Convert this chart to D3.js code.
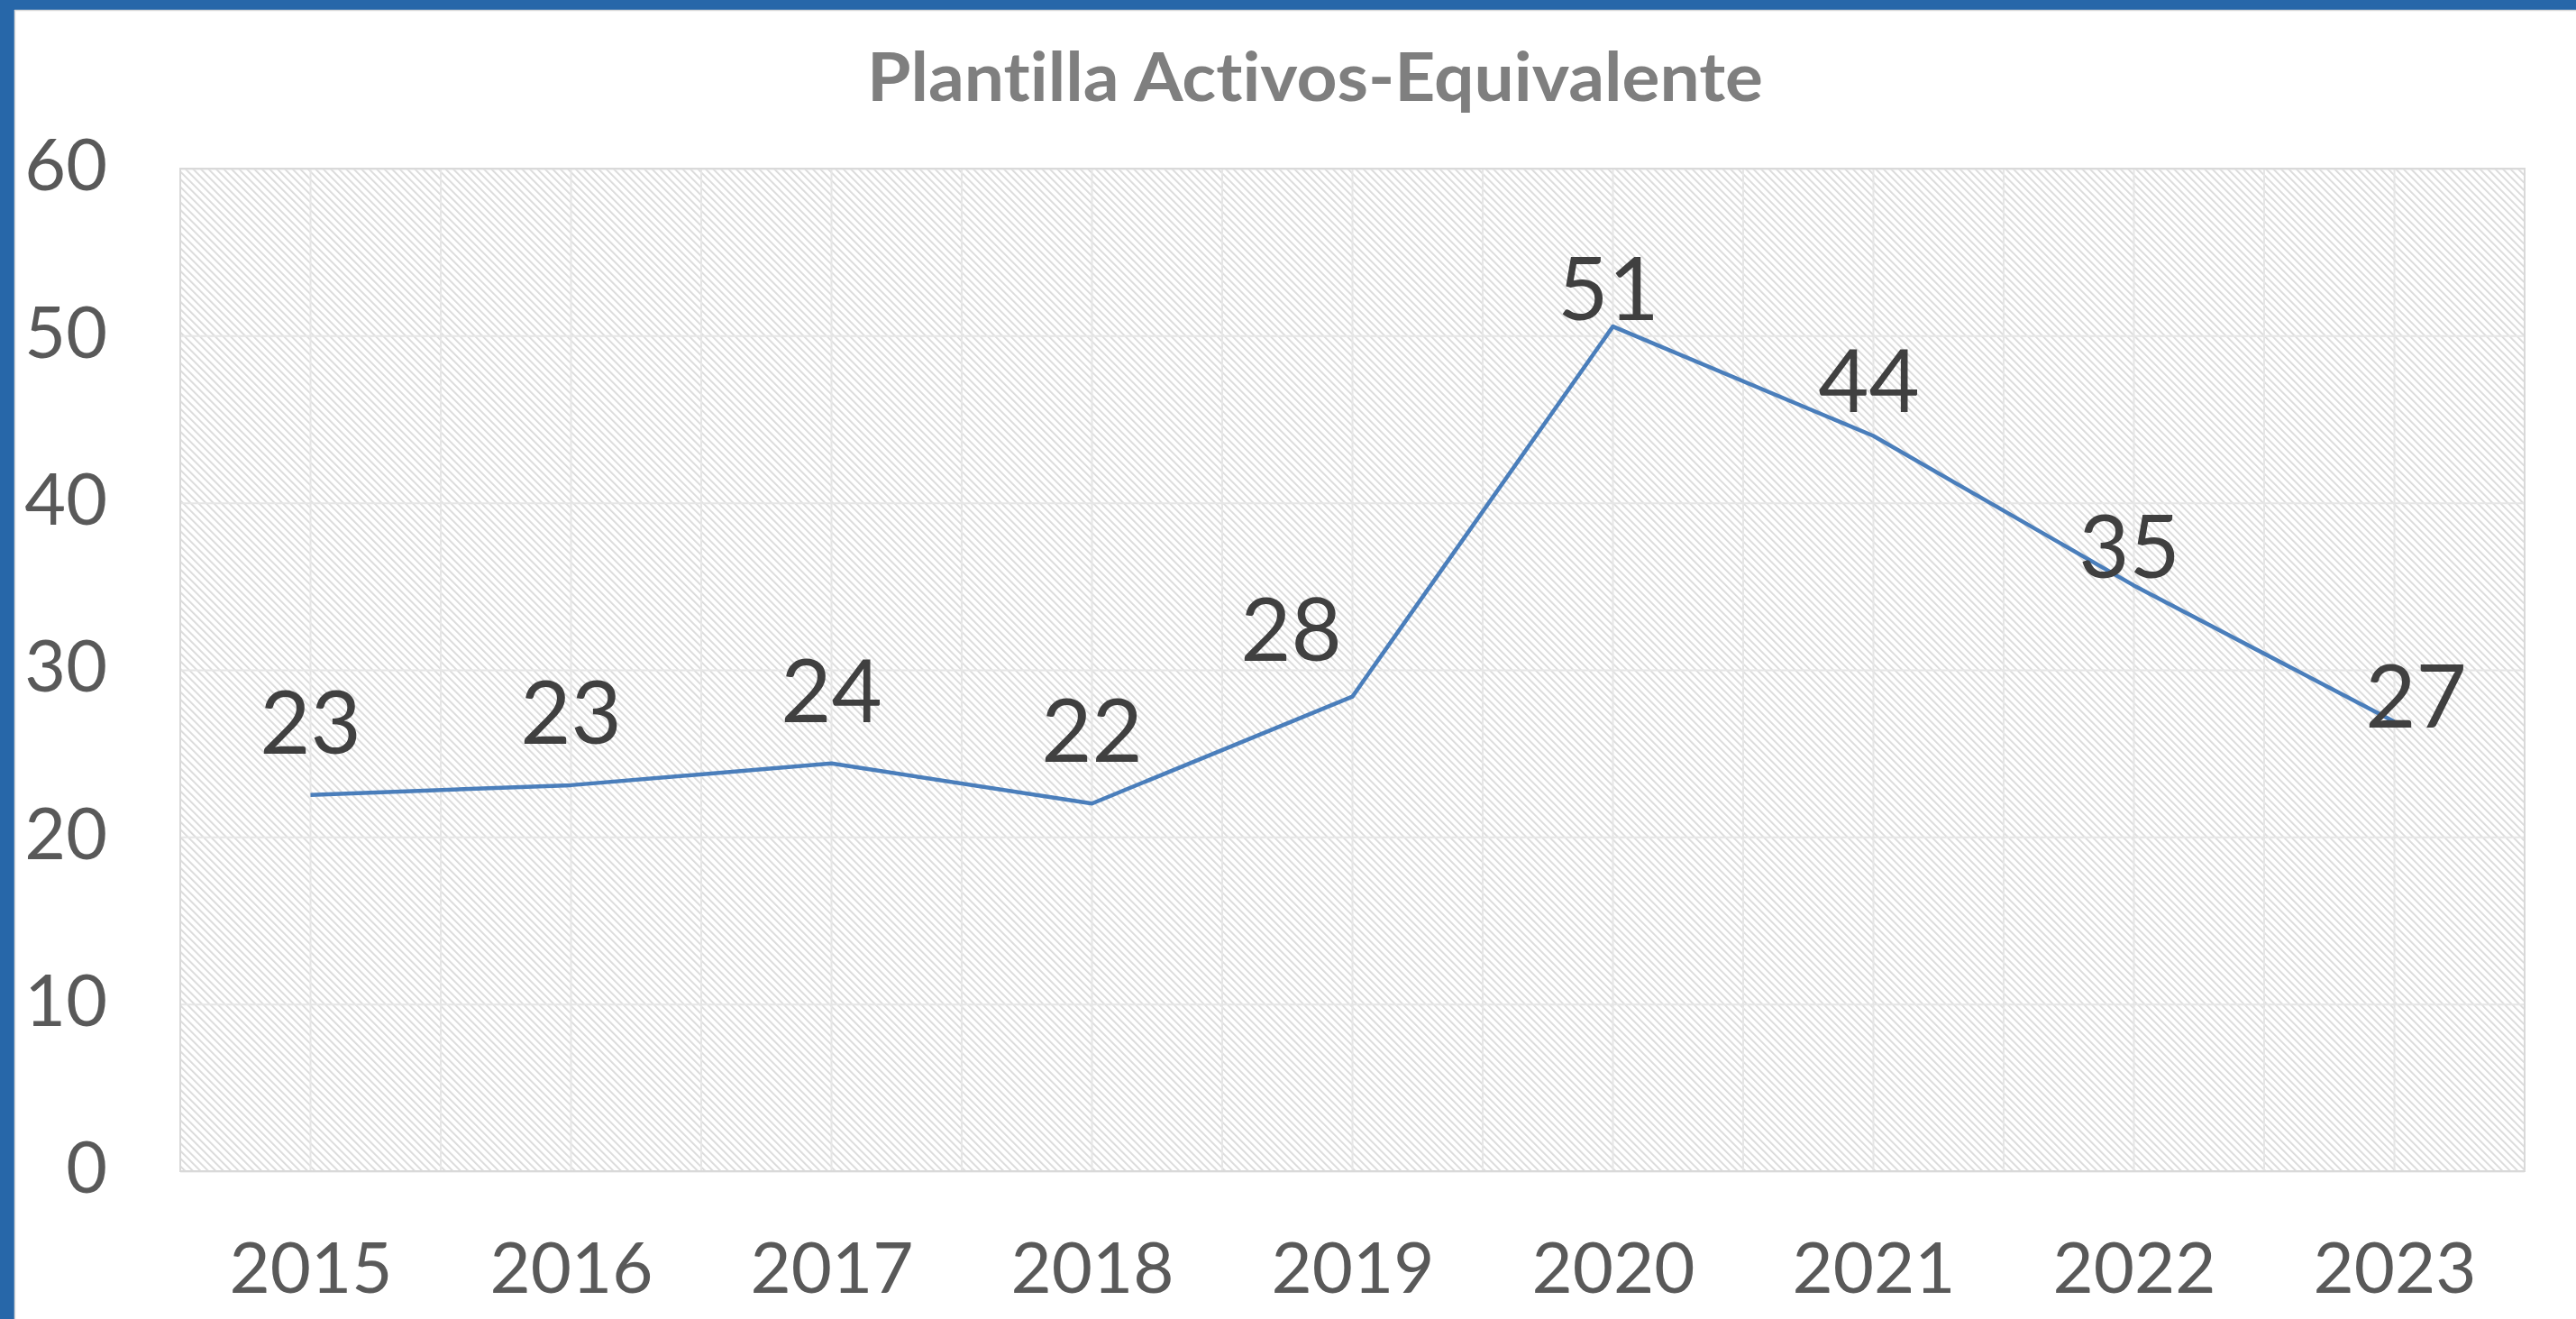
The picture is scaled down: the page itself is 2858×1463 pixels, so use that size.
<!DOCTYPE html>
<html>
<head>
<meta charset="utf-8">
<script src="https://cdn.jsdelivr.net/npm/d3@7"></script>
<style>
  body { margin: 0; background: #fff; }
  svg { display: block; }
  text { font-variant-ligatures: none; }
</style>
</head>
<body>
<div id="chart"></div>
<script>
/**
 * Data
 */
const title = "Plantilla Activos-Equivalente"
const years = ["2015", "2016", "2017", "2018", "2019", "2020", "2021", "2022", "2023"]
const plantilla = [22.52, 23.1, 24.4, 22.0, 28.4, 50.55, 44.0, 35.05, 26.9]
const yTicks = [0, 10, 20, 30, 40, 50, 60]

// manual label nudges (dx, dy) the way they were dragged in the original
const labelNudge = [[0, 0], [0, 0], [0, 0], [0, 0], [-68, 6], [-5, 39], [-5, 19], [-5, 38], [24, 53]]

/**
 * Sizes
 */
const W = 2858, H = 1463
const plot = { left: 200, right: 2801, top: 187, bottom: 1299 }
const font = "Lato, 'Open Sans', 'Liberation Sans', sans-serif"

const svg = d3.select("#chart")
    .append("svg")
        .attr("width", W)
        .attr("height", H)

// hatch pattern for plot area
const defs = svg.append("defs")
const pat = defs.append("pattern")
    .attr("id", "hatch")
    .attr("patternUnits", "userSpaceOnUse")
    .attr("width", 6)
    .attr("height", 6)
    .attr("patternTransform", "rotate(-45)")
pat.append("rect").attr("width", 6).attr("height", 6).attr("fill", "#fff")
pat.append("rect").attr("width", 1.8).attr("height", 6).attr("fill", "#d9d9d9")

// chart frame (blue border cut by the screenshot)
svg.append("rect").attr("x", 0).attr("y", 0).attr("width", W).attr("height", 11).attr("fill", "#2767a9")
svg.append("rect").attr("x", 0).attr("y", 0).attr("width", 16).attr("height", H).attr("fill", "#2767a9")
svg.append("line").attr("x1", 16.5).attr("x2", 16.5).attr("y1", 11).attr("y2", H)
    .attr("stroke", "#d9d9d9").attr("stroke-width", 1.5)
svg.append("line").attr("x1", 16).attr("x2", W).attr("y1", 11.5).attr("y2", 11.5)
    .attr("stroke", "#d9d9d9").attr("stroke-width", 1.5)

/**
 * Scales
 */
const x = d3.scalePoint()
    .domain(years)
    .range([plot.left, plot.right])
    .padding(0.5)

const y = d3.scaleLinear()
    .domain([0, 60])
    .range([plot.bottom, plot.top])

const step = x.step()

// plot area
svg.append("rect")
    .attr("x", plot.left)
    .attr("y", plot.top)
    .attr("width", plot.right - plot.left)
    .attr("height", plot.bottom - plot.top)
    .attr("fill", "url(#hatch)")

// vertical gridlines at categories and between them
const vLines = []
years.forEach(d => { vLines.push(x(d) - step / 2); vLines.push(x(d)) })
svg.append("g")
    .selectAll("line")
    .data(vLines.slice(1))
    .enter()
    .append("line")
        .attr("x1", d => d).attr("x2", d => d)
        .attr("y1", plot.top).attr("y2", plot.bottom)
        .attr("stroke", "#e6e6e6")
        .attr("stroke-width", 2)

// horizontal gridlines
svg.append("g")
    .attr("transform", "translate(" + plot.left + ",0)")
    .call(d3.axisLeft(y).tickValues(yTicks).tickSize(-(plot.right - plot.left)).tickFormat(""))
    .call(g => g.select(".domain").remove())
    .call(g => g.selectAll(".tick line").attr("stroke", "#e6e6e6").attr("stroke-width", 2))

// plot border
svg.append("rect")
    .attr("x", plot.left)
    .attr("y", plot.top)
    .attr("width", plot.right - plot.left)
    .attr("height", plot.bottom - plot.top)
    .attr("fill", "none")
    .attr("stroke", "#d9d9d9")
    .attr("stroke-width", 2)

/**
 * Axes
 */
const yAxis = svg.append("g")
    .attr("transform", "translate(" + plot.left + ",0)")
    .call(d3.axisLeft(y).tickValues(yTicks).tickSize(0).tickPadding(81))
yAxis.select(".domain").remove()
yAxis.selectAll("text")
    .attr("dy", "0.3em")
    .style("font-family", font)
    .style("font-size", "79px")
    .style("fill", "#595959")

const xAxis = svg.append("g")
    .attr("transform", "translate(0," + plot.bottom + ")")
    .call(d3.axisBottom(x).tickSize(0))
xAxis.select(".domain").remove()
xAxis.selectAll("text")
    .attr("y", 135)
    .attr("dy", 0)
    .style("font-family", font)
    .style("font-size", "78px")
    .style("fill", "#595959")

/**
 * Line
 */
const line = d3.line()
    .x((d, i) => x(years[i]))
    .y(d => y(d))

svg.append("path")
    .datum(plantilla)
    .attr("d", line)
    .attr("fill", "none")
    .attr("stroke", "#4a7ebb")
    .attr("stroke-width", 4.5)
    .attr("stroke-linejoin", "round")

// data labels
svg.append("g")
    .selectAll("text")
    .data(plantilla)
    .enter()
    .append("text")
        .attr("x", (d, i) => x(years[i]) + labelNudge[i][0])
        .attr("y", (d, i) => y(d) - 46 + labelNudge[i][1])
        .attr("text-anchor", "middle")
        .style("font-family", font)
        .style("font-size", "97px")
        .style("fill", "#404040")
        .text(d => Math.round(d))

// title
svg.append("text")
    .attr("x", 1459)
    .attr("y", 112)
    .attr("text-anchor", "middle")
    .attr("textLength", 994)
    .attr("lengthAdjust", "spacingAndGlyphs")
    .style("font-family", font)
    .style("font-weight", "bold")
    .style("font-size", "75px")
    .style("fill", "#7f7f7f")
    .text(title)
</script>
</body>
</html>
